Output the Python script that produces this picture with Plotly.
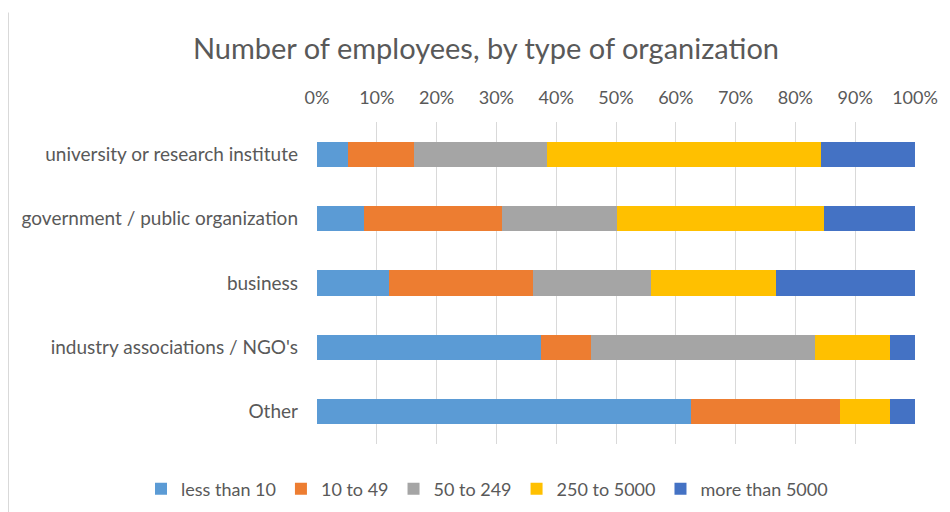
import plotly.graph_objects as go

categories = ["university or research institute", "government / public organization",
              "business", "industry associations / NGO's", "Other"]
series_names = ["less than 10", "10 to 49", "50 to 249", "250 to 5000", "more than 5000"]
less_than_10 = [5.1, 7.9, 12.0, 37.5, 62.5]
from_10_to_49 = [11.1, 23.0, 24.1, 8.3, 25.0]
from_50_to_249 = [22.3, 19.2, 19.8, 37.5, 0.0]
from_250_to_5000 = [45.7, 34.6, 20.9, 12.5, 8.3]
more_than_5000 = [15.8, 15.3, 23.2, 4.2, 4.2]
x_ticks = [0, 10, 20, 30, 40, 50, 60, 70, 80, 90, 100]

colors = ["#5B9BD5", "#ED7D31", "#A5A5A5", "#FFC000", "#4472C4"]
values = [less_than_10, from_10_to_49, from_50_to_249, from_250_to_5000, more_than_5000]

FONT = "Lato"
TXT = "#595959"
W, H = 942, 504
L, T, PW, PH = 309, 114, 598, 322

fig = go.Figure()
for name, vals, col in zip(series_names, values, colors):
    fig.add_trace(go.Bar(
        y=categories, x=vals, name=name, orientation="h",
        marker=dict(color=col, line=dict(width=0)), width=0.39,
    ))

fig.update_layout(
    barmode="stack",
    width=W, height=H,
    margin=dict(l=L, r=W - L - PW, t=T, b=H - T - PH, autoexpand=False),
    plot_bgcolor="white", paper_bgcolor="white",
    font=dict(family=FONT, color=TXT, size=18),
    title=dict(text="Number of employees, by type of organization",
               x=478 / W, xanchor="center", y=1 - 41 / H, yanchor="middle",
               font=dict(family=FONT, size=29, color=TXT)),
    xaxis=dict(side="top", range=[0, 100], tickvals=x_ticks,
               ticktext=[f"{v}%" for v in x_ticks],
               showgrid=True, gridcolor="#d9d9d9", gridwidth=1,
               zeroline=False, showline=False, ticks="",
               tickfont=dict(size=18, color=TXT), ticklabelstandoff=13),
    yaxis=dict(categoryorder="array", categoryarray=categories, autorange="reversed",
               showgrid=False, zeroline=False, showline=False, ticks="",
               tickfont=dict(size=19, color=TXT), ticklabelstandoff=18),
    legend=dict(orientation="h", xref="paper", yref="paper",
                x=(133 - L) / PW, xanchor="left", y=-45 / PH, yanchor="middle",
                font=dict(size=18, color=TXT), traceorder="normal"),
    showlegend=True,
)
fig.add_shape(type="line", xref="paper", yref="paper",
              x0=(0.5 - L) / PW, x1=(0.5 - L) / PW, y0=-0.3, y1=1.34,
              line=dict(color="#d9d9d9", width=1))

fig.write_html("out.html")
